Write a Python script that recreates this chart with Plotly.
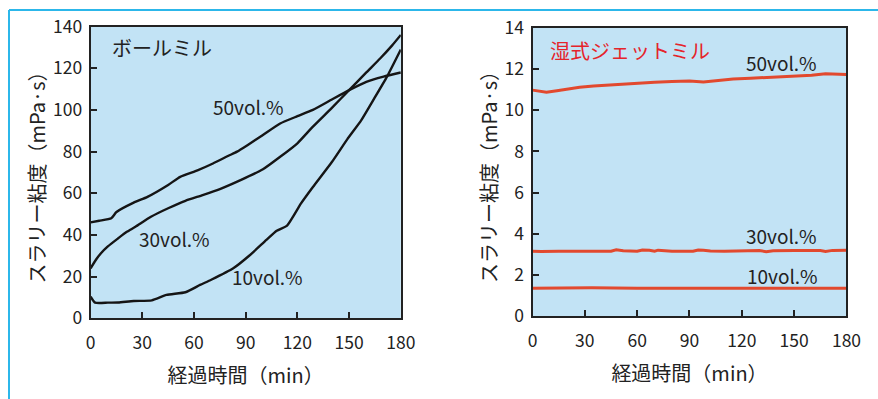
import plotly.graph_objects as go

# ---- ボールミル (left panel) ----
t_b50 = [0, 5, 12, 15, 25, 33, 45, 52, 62, 71, 80, 85, 91, 100, 110, 120, 129, 140, 150, 160, 170, 180]
v_b50 = [46, 46.8, 48, 51, 55.5, 58.3, 64, 67.9, 71, 74.3, 78, 80, 83.1, 88, 93.5, 97, 100, 105, 109.5, 113.5, 116, 118]

t_b30 = [0, 3, 6, 10, 16, 21, 26, 35, 45, 55, 65, 75, 87, 100, 110, 120, 129, 140, 150, 160, 168, 175, 180]
v_b30 = [24, 28, 31.2, 34.5, 38.4, 41.5, 43.9, 48.7, 52.8, 56.4, 59.1, 62, 66.3, 71.5, 77.5, 84, 92, 101, 109.5, 118, 124.7, 131, 136]

t_b10 = [0, 2.6, 10, 16, 25, 35.5, 44, 55, 63.5, 70, 82.8, 92, 102, 108, 114, 122, 129, 140, 149, 157, 164, 172, 180]
v_b10 = [10.4, 7.5, 7.5, 7.6, 8.3, 8.6, 11.2, 12.5, 16, 18.5, 24, 30, 37.6, 42, 44.5, 55, 63, 75, 86, 95, 104.7, 116, 129]

# ---- 湿式ジェットミル (right panel) ----
t_j50 = [0, 4, 8, 14, 20, 27, 35, 42, 50, 60, 70, 80, 90, 98, 105, 115, 125, 138, 150, 160, 168, 175, 180]
v_j50 = [10.98, 10.93, 10.88, 10.95, 11.03, 11.12, 11.18, 11.22, 11.28, 11.32, 11.36, 11.40, 11.42,
         11.38, 11.45, 11.52, 11.56, 11.62, 11.66, 11.7, 11.78, 11.76, 11.74]

t_j30 = [0, 5, 15, 30, 45, 48, 52, 60, 63, 67, 70, 72, 80, 92, 95, 98, 102, 110, 122, 125, 130,
         134, 138, 150, 165, 168, 172, 180]
v_j30 = [3.15, 3.13, 3.15, 3.15, 3.15, 3.22, 3.17, 3.15, 3.21, 3.2, 3.15, 3.2, 3.15, 3.15, 3.21,
         3.2, 3.16, 3.15, 3.18, 3.2, 3.18, 3.13, 3.17, 3.18, 3.18, 3.14, 3.19, 3.2]

t_j10 = [0, 15, 30, 34, 60, 90, 120, 150, 180]
v_j10 = [1.35, 1.36, 1.35, 1.37, 1.35, 1.35, 1.35, 1.35, 1.35]

x_ticks = [0, 30, 60, 90, 120, 150, 180]
y_ticks_left = [0, 20, 40, 60, 80, 100, 120, 140]
y_ticks_right = [0, 2, 4, 6, 8, 10, 12, 14]

FONT = "Noto Sans CJK JP"
TXT = "#222222"
BLACK = "#151515"
RED = "#e2492e"
BG = "#c2e3f5"
FRAME_BLUE = "#2cb7ea"

fig = go.Figure()

for t, v in [(t_b50, v_b50), (t_b30, v_b30), (t_b10, v_b10)]:
    fig.add_trace(go.Scatter(x=t, y=v, mode="lines", xaxis="x", yaxis="y",
                             line=dict(color=BLACK, width=2.4, shape="spline", smoothing=0.5),
                             showlegend=False, hoverinfo="skip"))

for t, v in [(t_j50, v_j50), (t_j30, v_j30), (t_j10, v_j10)]:
    fig.add_trace(go.Scatter(x=t, y=v, mode="lines", xaxis="x2", yaxis="y2",
                             line=dict(color=RED, width=3),
                             showlegend=False, hoverinfo="skip"))

axis_common = dict(showline=True, mirror=True, linecolor="#222", linewidth=2,
                   ticks="inside", ticklen=6, tickwidth=2, tickcolor="#222",
                   showgrid=False, zeroline=False, automargin=False,
                   tickfont=dict(family=FONT, size=17.5, color=TXT))

xt = dict(text="経過時間（min）", font=dict(family=FONT, size=20, color=TXT), standoff=16)
yt = dict(text="スラリー粘度（mPa·s）", font=dict(family=FONT, size=20, color=TXT), standoff=2)

fig.update_layout(
    width=878, height=399,
    margin=dict(l=0, r=0, t=0, b=0, autoexpand=False),
    paper_bgcolor="white",
    plot_bgcolor=BG,
    xaxis=dict(domain=[0.1032, 0.4565], range=[0, 180], tickvals=x_ticks, anchor="y",
               title=xt, ticklabelstandoff=8, **axis_common),
    yaxis=dict(domain=[0.2023, 0.9333], range=[0, 140], tickvals=y_ticks_left, anchor="x",
               title=yt, ticklabelstandoff=3, **axis_common),
    xaxis2=dict(domain=[0.6065, 0.9641], range=[0, 180], tickvals=x_ticks, anchor="y2",
                title=xt, ticklabelstandoff=8, **axis_common),
    yaxis2=dict(domain=[0.208, 0.9298], range=[0, 14], tickvals=y_ticks_right, anchor="x2",
                title=yt, ticklabelstandoff=3, **axis_common),
)

# Frame accent lines along the top and left edges of the page
fig.add_shape(type="line", xref="paper", yref="paper", x0=9 / 878, x1=1, y0=1 - 10 / 399, y1=1 - 10 / 399,
              line=dict(color=FRAME_BLUE, width=2))
fig.add_shape(type="line", xref="paper", yref="paper", x0=9 / 878, x1=9 / 878, y0=0, y1=1 - 10 / 399,
              line=dict(color=FRAME_BLUE, width=2))

labels = [
    ("x", "y", 11, 130, "ボールミル", 20, TXT),
    ("x", "y", 70, 101.5, "50vol.%", 19, TXT),
    ("x", "y", 27, 38.5, "30vol.%", 19, TXT),
    ("x", "y", 81, 20, "10vol.%", 19, TXT),
    ("x2", "y2", 9, 12.9, "湿式ジェットミル", 20, "#e5242b"),
    ("x2", "y2", 121, 12.3, "50vol.%", 19, TXT),
    ("x2", "y2", 121, 3.9, "30vol.%", 19, TXT),
    ("x2", "y2", 122, 1.95, "10vol.%", 19, TXT),
]
for xr, yr, x, y, text, size, color in labels:
    fig.add_annotation(xref=xr, yref=yr, x=x, y=y, text=text, showarrow=False,
                       xanchor="left", yanchor="middle",
                       font=dict(family=FONT, size=size, color=color))

fig.write_html("out.html")
